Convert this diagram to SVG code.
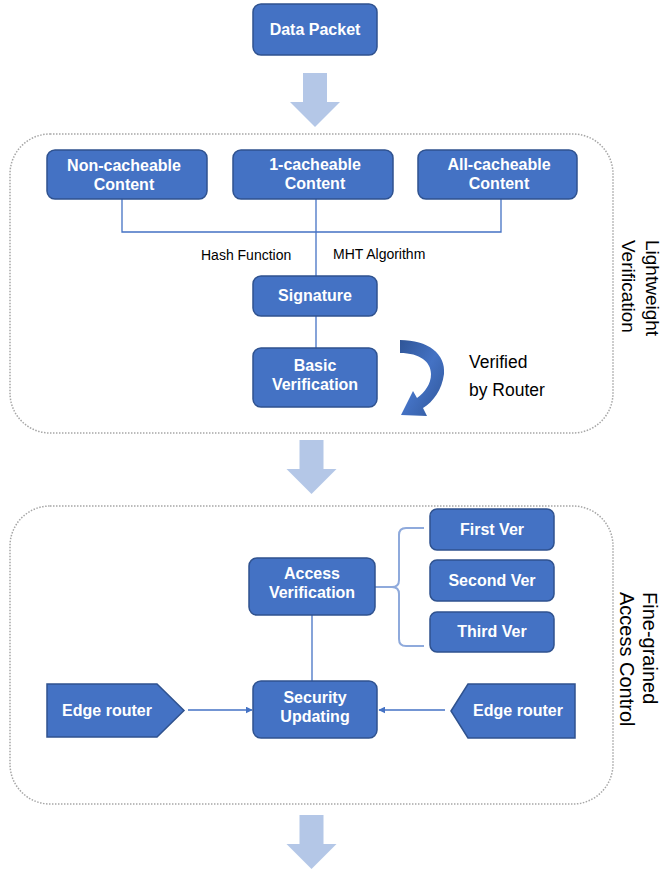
<svg xmlns="http://www.w3.org/2000/svg" width="663" height="875" viewBox="0 0 663 875">
  <style>
    .node { fill: #4472C4; stroke: #2F528F; stroke-width: 1.5; }
    .lbl { font-family: "Liberation Sans", Arial, sans-serif; font-size: 16px; font-weight: bold; fill: #FFFFFF; text-anchor: middle; }
    .note { font-family: "Liberation Sans", Arial, sans-serif; fill: #000000; }
    .zone { fill: none; stroke: #A6A6A6; stroke-width: 1.5; stroke-dasharray: 1.5 1.5; }
    .link { fill: none; stroke: #4472C4; stroke-width: 1.3; }
    .flow { fill: #B4C7E7; }
  </style>
  <defs>
    <path id="blockArrow" d="M -12 0 H 12 V 29 H 25 L 0 54 L -25 29 H -12 Z"/>
    <marker id="tip" viewBox="0 0 10 10" refX="9" refY="5" markerWidth="7" markerHeight="7" orient="auto" markerUnits="userSpaceOnUse">
      <path d="M0 0 L10 5 L0 10 Z" fill="#4472C4"/>
    </marker>
    <linearGradient id="curveFill" x1="0" y1="0" x2="1" y2="1">
      <stop offset="0" stop-color="#2F5597"/>
      <stop offset="0.5" stop-color="#4472C4"/>
      <stop offset="1" stop-color="#2F5597"/>
    </linearGradient>
  </defs>

  <!-- dotted stage frames -->
  <rect class="zone" x="10" y="134" width="603" height="299" rx="40"/>
  <rect class="zone" x="10" y="506" width="603" height="298" rx="40"/>

  <!-- stage titles -->
  <text class="note" font-size="19" transform="translate(646,240) rotate(90)">Lightweight</text>
  <text class="note" font-size="19" transform="translate(622,240) rotate(90)">Verification</text>
  <text class="note" font-size="20" transform="translate(643,592) rotate(90)">Fine-grained</text>
  <text class="note" font-size="20" transform="translate(620,592) rotate(90)">Access Control</text>

  <!-- flow arrows between stages -->
  <use href="#blockArrow" class="flow" transform="translate(315,73)"/>
  <use href="#blockArrow" class="flow" transform="translate(311.5,440)"/>
  <use href="#blockArrow" class="flow" transform="translate(311.5,815)"/>

  <g id="connectors">
    <path class="link" d="M122 199 V232 H501 V199"/>
    <path class="link" d="M316 199 V276"/>
    <path class="link" d="M316 316 V348"/>
    <path class="link" d="M312 615 V681"/>
    <path d="M375 587 H392 Q399 587 399 580 V535 Q399 528 406 528 H424 M392 587 Q399 587 399 594 V639 Q399 646 406 646 H424" fill="none" stroke="#8FAADC" stroke-width="2"/>
    <path class="link" d="M188 710 H252" marker-end="url(#tip)"/>
    <path class="link" d="M445 710 H379" marker-end="url(#tip)"/>
    <text class="note" font-size="14" x="201" y="260">Hash Function</text>
    <text class="note" font-size="14" x="333" y="259">MHT Algorithm</text>
  </g>

  <g id="data-packet">
    <rect class="node" x="253" y="4" width="124" height="51" rx="8"/>
    <text class="lbl" x="315" y="35">Data Packet</text>
  </g>

  <g id="non-cacheable">
    <rect class="node" x="47" y="150" width="160" height="49" rx="8"/>
    <text class="lbl" x="124" y="171">Non-cacheable</text>
    <text class="lbl" x="124" y="190">Content</text>
  </g>

  <g id="one-cacheable">
    <rect class="node" x="233" y="150" width="160" height="49" rx="8"/>
    <text class="lbl" x="315" y="170">1-cacheable</text>
    <text class="lbl" x="315" y="189">Content</text>
  </g>

  <g id="all-cacheable">
    <rect class="node" x="418" y="150" width="159" height="49" rx="8"/>
    <text class="lbl" x="499" y="170">All-cacheable</text>
    <text class="lbl" x="499" y="189">Content</text>
  </g>

  <g id="signature">
    <rect class="node" x="253" y="276" width="124" height="40" rx="8"/>
    <text class="lbl" x="315" y="301">Signature</text>
  </g>

  <g id="basic-verification">
    <rect class="node" x="253" y="348" width="124" height="59" rx="8"/>
    <text class="lbl" x="315" y="371">Basic</text>
    <text class="lbl" x="315" y="390">Verification</text>
  </g>

  <g id="router-check">
    <path d="M400 340 C428 340 446 354 444 374 C442 390 433 402 423 408 L427 416 L401 415 L413 391 L417 398 C425 392 431 384 431 374 C431 362 420 353 400 353 Z" fill="url(#curveFill)"/>
    <text class="note" font-size="17.5" x="469" y="368">Verified</text>
    <text class="note" font-size="17.5" x="469" y="396">by Router</text>
  </g>

  <g id="access-verification">
    <rect class="node" x="249" y="558" width="126" height="57" rx="8"/>
    <text class="lbl" x="312" y="579">Access</text>
    <text class="lbl" x="312" y="598">Verification</text>
  </g>

  <g id="first-ver">
    <rect class="node" x="430" y="509" width="124" height="41" rx="7"/>
    <text class="lbl" x="492" y="535">First Ver</text>
  </g>

  <g id="second-ver">
    <rect class="node" x="430" y="560" width="124" height="41" rx="7"/>
    <text class="lbl" x="492" y="586">Second Ver</text>
  </g>

  <g id="third-ver">
    <rect class="node" x="430" y="612" width="124" height="40" rx="7"/>
    <text class="lbl" x="492" y="637">Third Ver</text>
  </g>

  <g id="security-updating">
    <rect class="node" x="253" y="681" width="124" height="57" rx="8"/>
    <text class="lbl" x="315" y="703">Security</text>
    <text class="lbl" x="315" y="722">Updating</text>
  </g>

  <g id="edge-router-left">
    <polygon class="node" points="47,684 157,684 184,710.5 157,737 47,737"/>
    <text class="lbl" x="107" y="716">Edge router</text>
  </g>

  <g id="edge-router-right">
    <polygon class="node" points="451,711 468,684 575,684 575,738 468,738"/>
    <text class="lbl" x="518" y="716">Edge router</text>
  </g>
</svg>
